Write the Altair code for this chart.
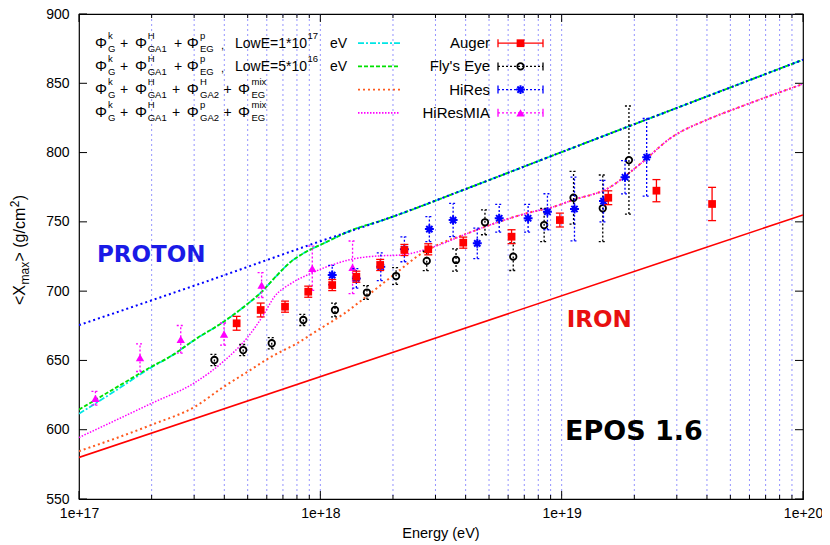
import altair as alt
import pandas as pd

W, H = 724, 485
FONT = "Liberation Sans"
BOLD = "DejaVu Sans"

# ---------------- model curves: log10(E/eV) and <Xmax> (g/cm^2) ----------------
iron_logE = [17.0, 20.0]
iron_xmax = [580.0, 755.0]

proton_logE = [17.0, 17.5, 18.0, 18.26, 18.61, 18.95, 20.0]
proton_xmax = [675.5, 705.3, 736.0, 751.3, 774.2, 797.0, 867.0]

lowe17_logE = [17.0, 17.15, 17.30, 17.38, 17.48, 17.60, 17.70, 17.76, 17.81, 17.88, 17.93,
               18.02, 18.13, 18.26, 18.61, 18.95, 20.0]
lowe17_xmax = [611.5, 628.0, 645.0, 653.0, 665.0, 678.0, 691.0, 700.0, 709.5, 721.5, 727.3,
               735.0, 744.0, 751.3, 774.2, 797.0, 867.0]

lowe16_logE = [17.0, 17.15, 17.30, 17.38, 17.48, 17.60, 17.70, 17.76, 17.81, 17.88, 17.93,
               18.02, 18.13, 18.26, 18.61, 18.95, 20.0]
lowe16_xmax = [614.5, 630.0, 645.5, 653.0, 665.0, 678.0, 691.0, 700.0, 709.5, 721.5, 727.3,
               735.0, 744.0, 751.3, 774.2, 797.0, 867.0]

ga2h_logE = [17.0, 17.30, 17.48, 17.60, 17.70, 17.80, 17.90, 18.0, 18.10, 18.19, 18.26,
             18.33, 18.40, 18.47, 18.61, 18.74, 18.88, 18.95, 19.05, 19.19, 19.32, 19.46,
             19.60, 19.74, 20.0]
ga2h_xmax = [584.5, 603.5, 616.6, 631.0, 642.0, 653.0, 662.0, 673.0, 684.0, 696.0, 705.7,
             715.3, 724.9, 732.0, 741.7, 750.0, 757.3, 760.0, 766.0, 774.0, 791.0, 811.5,
             823.5, 833.0, 849.5]

ga2p_logE = [17.0, 17.30, 17.48, 17.60, 17.70, 17.76, 17.81, 17.88, 17.95, 18.05, 18.13,
             18.25, 18.33, 18.47, 18.61, 18.74, 18.88, 18.95, 19.05, 19.19, 19.32, 19.46,
             19.60, 19.74, 20.0]
ga2p_xmax = [594.4, 619.0, 634.0, 649.5, 667.0, 681.6, 696.0, 705.7, 712.0, 719.0, 723.0,
             725.5, 726.0, 732.0, 741.7, 750.0, 757.3, 760.0, 766.0, 774.0, 791.0, 811.5,
             823.5, 833.0, 849.5]

# ---------------- measurements ----------------
auger_E = [4.50e17, 5.66e17, 7.14e17, 8.91e17, 1.12e18, 1.41e18, 1.77e18, 2.23e18,
           2.80e18, 3.91e18, 6.20e18, 9.83e18, 1.56e19, 2.47e19, 4.20e19]
auger_X = [676.8, 686.4, 688.8, 699.6, 704.4, 710.4, 718.9, 729.7, 730.2, 735.0, 739.3,
           751.3, 767.4, 772.5, 762.9]
auger_err = [5, 5, 4, 4, 4, 4, 4, 4, 4, 4, 5, 5, 5, 8, 12]

fly_E = [3.64e17, 4.79e17, 6.29e17, 8.50e17, 1.15e18, 1.56e18, 2.06e18, 2.76e18, 3.65e18,
         4.81e18, 6.30e18, 8.46e18, 1.12e19, 1.48e19, 1.90e19]
fly_X = [650.3, 657.5, 662.4, 679.2, 686.4, 699.0, 710.9, 721.8, 722.5, 749.7, 724.9,
         747.7, 767.4, 759.8, 794.6]
fly_err = [4, 4, 4, 4, 5, 5, 6, 7, 8, 9, 10, 12, 19, 24, 39]

hires_E = [1.12e18, 1.41e18, 1.78e18, 2.23e18, 2.83e18, 3.55e18, 4.47e18, 5.51e18,
           7.26e18, 8.73e18, 1.13e19, 1.49e19, 1.83e19, 2.25e19]
hires_X = [711.6, 709.2, 717.6, 730.2, 744.8, 751.3, 734.5, 752.6, 752.6, 757.3, 759.3,
           765.0, 782.2, 796.6]
hires_err = [7, 7, 10, 9, 9, 12, 11, 10, 10, 13, 23, 15, 12, 28]

mia_E = [1.17e17, 1.79e17, 2.64e17, 3.99e17, 5.71e17, 9.26e17, 1.36e18]
mia_X = [622.7, 652.0, 665.2, 669.0, 704.4, 716.5, 717.2]
mia_err = [5, 10, 10, 8, 9, 16, 19]

# ---------------- axes ----------------
x_ticks = [1e17, 1e18, 1e19, 1e20]
y_ticks = [550, 600, 650, 700, 750, 800, 850, 900]
decades = [1e17, 1e18, 1e19]
multipliers = [1, 2, 3, 4, 5, 6, 7, 8, 9]

XS = alt.Scale(type="log", domain=[1e17, 1e20])
YS = alt.Scale(domain=[550, 900], zero=False, nice=False)
XAX = alt.Axis(values=x_ticks, labelExpr="'1e+' + round(log(datum.value)/LN10)",
               ticks=False, tickSize=0, domain=False, grid=False, labelFlush=False,
               labelOverlap=False, labelPadding=7, labelFontSize=14, labelFont=FONT,
               labelColor="black", title=None)
YAX = alt.Axis(values=y_ticks, ticks=False, tickSize=0, domain=False, grid=False,
               labelPadding=10, labelFontSize=14, labelFont=FONT, labelColor="black",
               title=None)


def X(f):
    return alt.X(f, type="quantitative", scale=XS, axis=XAX)


def Y(f):
    return alt.Y(f, type="quantitative", scale=YS, axis=YAX)


one = pd.DataFrame({"d": [0]})
layers = []

# grid lines (vertical, dotted blue) and inward ticks
grid_E = [m * d for d in decades for m in multipliers][1:]
gdf = pd.DataFrame({"E": grid_E})
layers.append(alt.Chart(gdf).mark_rule(color="#7070ff", strokeDash=[2, 3], strokeWidth=1, opacity=0.75)
              .encode(x=X("E"), y=alt.value(0), y2=alt.value(H)))
tick_E = [m * d for d in decades for m in multipliers] + [1e20]
tick_len = [8 if m == 1 else 4 for d in decades for m in multipliers] + [8]
tick_df = pd.DataFrame({"E": tick_E, "len": tick_len})
for ln in (8, 4):
    sub = tick_df[tick_df["len"] == ln]
    layers.append(alt.Chart(sub).mark_rule(color="black", strokeWidth=1)
                  .encode(x=X("E"), y=alt.value(H), y2=alt.value(H - ln)))
    layers.append(alt.Chart(sub).mark_rule(color="black", strokeWidth=1)
                  .encode(x=X("E"), y=alt.value(0), y2=alt.value(ln)))
ytdf = pd.DataFrame({"v": y_ticks})
layers.append(alt.Chart(ytdf).mark_rule(color="black", strokeWidth=1)
              .encode(y=Y("v"), x=alt.value(0), x2=alt.value(8)))
layers.append(alt.Chart(ytdf).mark_rule(color="black", strokeWidth=1)
              .encode(y=Y("v"), x=alt.value(W - 8), x2=alt.value(W)))


def curve(logE, xm, color, dash, width=1.6):
    df = pd.DataFrame({"E": [10 ** v for v in logE], "X": xm})
    kw = dict(color=color, strokeWidth=width, interpolate="monotone", clip=True)
    if dash:
        kw["strokeDash"] = dash
    return alt.Chart(df).mark_line(**kw).encode(x=X("E"), y=Y("X"))


layers.append(curve(iron_logE, iron_xmax, "#ff0000", None, 1.6))
layers.append(curve(ga2h_logE, ga2h_xmax, "#ff5a1e", [2, 3], 2))
layers.append(curve(ga2p_logE, ga2p_xmax, "#ff00ff", [1.5, 1.5], 1.5))
layers.append(curve(lowe17_logE, lowe17_xmax, "#00e5e5", [6, 2, 2, 2], 1.8))
layers.append(curve(lowe16_logE, lowe16_xmax, "#00e000", [4, 2], 1.8))
layers.append(curve(proton_logE, proton_xmax, "#0000ff", [2, 3], 2))

ASTER = "M-1,0L1,0M0,-1L0,1M-0.7,-0.7L0.7,0.7M-0.7,0.7L0.7,-0.7"


def dataset(E, Xv, err, color, dash, shape, filled, size, sw):
    df = pd.DataFrame({"E": E, "X": Xv, "lo": [a - b for a, b in zip(Xv, err)],
                       "hi": [a + b for a, b in zip(Xv, err)]})
    rk = dict(color=color, strokeWidth=1.3)
    if dash:
        rk["strokeDash"] = dash
    out = [alt.Chart(df).mark_rule(**rk).encode(x=X("E"), y=Y("lo"), y2=alt.Y2("hi"))]
    for f in ("lo", "hi"):
        out.append(alt.Chart(df).mark_rule(xOffset=-4, x2Offset=4, **rk)
                   .encode(x=X("E"), x2=alt.X2("E"), y=Y(f)))
    pk = dict(shape=shape, filled=filled, size=size, opacity=1)
    if filled:
        pk["color"] = color
    else:
        pk.update(stroke=color, strokeWidth=sw, fillOpacity=0)
    out.append(alt.Chart(df).mark_point(**pk).encode(x=X("E"), y=Y("X")))
    return out


layers += dataset(mia_E, mia_X, mia_err, "#ff00ff", [2, 2], "triangle-up", True, 70, 1)
layers += dataset(fly_E, fly_X, fly_err, "black", [2, 2], "circle", False, 42, 1.8)
layers += dataset(hires_E, hires_X, hires_err, "#0000ff", [2, 2], ASTER, False, 80, 2)
layers += dataset(auger_E, auger_X, auger_err, "#ff0000", None, "square", True, 60, 1)


def txt(s, x, y, size=14, color="black", font=FONT, weight="normal", align="left", angle=0):
    kw = dict(text=s, fontSize=size, color=color, font=font, fontWeight=weight,
              align=align, baseline="alphabetic")
    if angle:
        kw["angle"] = angle
    return alt.Chart(one).mark_text(**kw).encode(x=alt.value(x), y=alt.value(y))


def lrule(x1, x2, y, color, dash, width=1.6):
    kw = dict(color=color, strokeWidth=width)
    if dash:
        kw["strokeDash"] = dash
    return alt.Chart(one).mark_rule(**kw).encode(x=alt.value(x1), x2=alt.value(x2), y=alt.value(y))


# ---------------- left legend (formulas) ----------------
row_base = [33.7, 56.9, 80.1, 103.3]
SUP, SUB = -9, 4
row12 = [("Φ", 16, 0), ("k", 29, SUP), ("G", 29, SUB), ("+", 41, 0), ("Φ", 56, 0),
         ("H", 68.7, SUP), ("GA1", 68.7, SUB), ("+", 95, 0), ("Φ", 107.7, 0),
         ("p", 121, SUP), ("EG", 121, SUB), (",", 142, 1)]
rows = [
    row12 + [("LowE=1*10", 156, 0), ("17", 228.5, SUP), ("eV", 251, 0)],
    row12 + [("LowE=5*10", 156, 0), ("16", 228.5, SUP), ("eV", 251, 0)],
    [("Φ", 16, 0), ("k", 29, SUP), ("G", 29, SUB), ("+", 41, 0), ("Φ", 56, 0),
     ("H", 68.7, SUP), ("GA1", 68.7, SUB), ("+", 93, 0), ("Φ", 107.7, 0),
     ("H", 121, SUP), ("GA2", 121, SUB), ("+", 144.5, 0), ("Φ", 159, 0),
     ("mix", 172.5, SUP), ("EG", 172.5, SUB)],
    [("Φ", 16, 0), ("k", 29, SUP), ("G", 29, SUB), ("+", 41, 0), ("Φ", 56, 0),
     ("H", 68.7, SUP), ("GA1", 68.7, SUB), ("+", 93, 0), ("Φ", 107.7, 0),
     ("p", 121, SUP), ("GA2", 121, SUB), ("+", 144.5, 0), ("Φ", 159, 0),
     ("mix", 172.5, SUP), ("EG", 172.5, SUB)],
]
for base, segs in zip(row_base, rows):
    for s, x, dy in segs:
        if s == "Φ":
            sz = 15
        elif s == ",":
            sz = 11
        elif dy == 0:
            sz = 14
        else:
            sz = 9.5
        layers.append(txt(s, x, base + dy, size=sz))

left_styles = [("#00e5e5", [6, 2, 2, 2]), ("#00e000", [4, 2]), ("#ff5a1e", [2, 3]),
               ("#ff00ff", [1.5, 1.5])]
for base, (c, d) in zip(row_base, left_styles):
    layers.append(lrule(279, 321, base - 4.5, c, d, 1.8))

# ---------------- right legend (data sets) ----------------
names = ["Auger", "Fly's Eye", "HiRes", "HiResMIA"]
rstyle = [("#ff0000", None, "square", True, 60, 1), ("black", [2, 2], "circle", False, 42, 1.8),
          ("#0000ff", [2, 2], ASTER, False, 80, 2), ("#ff00ff", [2, 2], "triangle-up", True, 70, 1)]
for base, n, (c, d, shp, fil, sz, sw) in zip(row_base, names, rstyle):
    layers.append(txt(n, 411, base + 0.5, size=15, align="right"))
    yy = base - 4.5
    layers.append(lrule(419, 464, yy, c, d, 1.3))
    for xx in (419, 464):
        layers.append(alt.Chart(one).mark_rule(color=c, strokeWidth=1.3)
                      .encode(x=alt.value(xx), y=alt.value(yy - 4), y2=alt.value(yy + 4)))
    pk = dict(shape=shp, filled=fil, size=sz, opacity=1)
    if fil:
        pk["color"] = c
    else:
        pk.update(stroke=c, strokeWidth=sw, fillOpacity=0)
    layers.append(alt.Chart(one).mark_point(**pk).encode(x=alt.value(441.5), y=alt.value(yy)))

# ---------------- annotations ----------------
layers.append(txt("PROTON", 18, 247.7, size=23, color="#1a1ae6", font=BOLD, weight="bold"))
layers.append(txt("IRON", 487.7, 312.7, size=23, color="#e81010", font=BOLD, weight="bold"))
layers.append(txt("EPOS 1.6", 486, 426, size=27, color="black", font=BOLD, weight="bold"))

# axis titles
layers.append(txt("Energy (eV)", 362, 524, size=14.5, align="center"))
# y title: <X_max> (g/cm^2), rotated
ty = 291
for s, dx, sz, w in [("<X", 0, 16, 20.5), ("max", 4, 12, 23.0), ("> (g/cm", 0, 16, 54.3),
                     ("2", -6, 12, 7.0), (")", 0, 16, 5.3)]:
    layers.append(txt(s, -54 + dx, ty, size=sz, angle=270))
    ty -= w

chart = (alt.layer(*layers)
         .properties(width=W, height=H,
                     autosize=alt.AutoSizeParams(type="none"),
                     padding={"left": 71, "top": 6, "right": 19, "bottom": 45})
         .configure_view(stroke="black", strokeWidth=1.2))

chart.save("out.html", embed_options={"renderer": "svg", "actions": False})
